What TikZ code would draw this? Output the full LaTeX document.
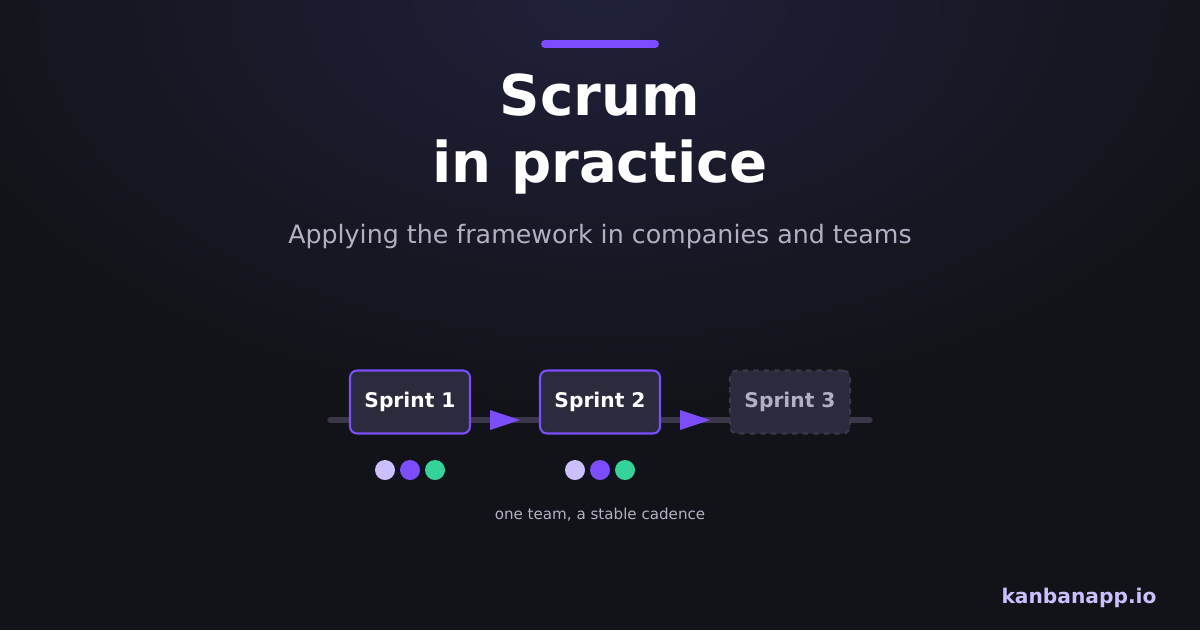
\documentclass[tikz,border=0pt]{standalone}
\usepackage{fontspec}
\setmainfont{DejaVu Sans}
\usetikzlibrary{positioning}
\definecolor{bgdark}{HTML}{121318}
\definecolor{bglight}{HTML}{20203a}
\definecolor{accent}{HTML}{7C4DFF}
\definecolor{lilac}{HTML}{CBBFFF}
\definecolor{mint}{HTML}{34D399}
\definecolor{boxfill}{HTML}{2C2B3D}
\definecolor{track}{HTML}{3A3848}
\definecolor{muted}{HTML}{B3B0C4}
\begin{document}
\begin{tikzpicture}[x=0.02cm,y=-0.02cm,
    sprint/.style={rectangle,rounded corners=4pt,draw=accent,line width=1.2pt,fill=boxfill,
      minimum width=2.4cm,minimum height=1.26cm,text=white,font=\fontsize{11.5}{13}\selectfont\bfseries},
    planned/.style={sprint,draw=track,dashed,text=muted},
    dot/.style={circle,minimum size=0.4cm,inner sep=0pt}]

    % Background
    \useasboundingbox (0,0) rectangle (1200,630);
    \clip (0,0) rectangle (1200,630);
    \fill[bgdark] (0,0) rectangle (1200,630);
    \shade[inner color=bglight,outer color=bgdark] (600,0) ellipse (700 and 420);

    % Title block
    \draw[accent,line width=4.5pt,line cap=round] (545,44) -- (655,44);
    \node[text=white,font=\fontsize{32}{38}\selectfont\bfseries,align=center] (title) at (600,134) {Scrum\\in practice};
    \node[text=muted,font=\fontsize{14.4}{17}\selectfont] (subtitle) at (600,237) {Applying the framework in companies and teams};

    % Timeline
    \coordinate (start) at (330,420);
    \coordinate (end) at (870,420);
    \draw[track,line width=3pt,line cap=round] (start) -- (end);

    \node[sprint] (s1) at (410,402) {Sprint 1};
    \node[sprint] (s2) at (600,402) {Sprint 2};
    \node[planned] (s3) at (790,402) {Sprint 3};

    \foreach \x in {490,680}
        \fill[accent] (\x,410) -- (\x+30,420) -- (\x,430) -- cycle;

    % Team dots
    \foreach \s/\x in {a/385,b/575}{
        \node[dot,fill=lilac] (\s1) at (\x,470) {};
        \node[dot,fill=accent] (\s2) at (\x+25,470) {};
        \node[dot,fill=mint] (\s3) at (\x+50,470) {};
    }

    \node[text=muted,font=\fontsize{8.6}{10}\selectfont] (caption) at (600,515) {one team, a stable cadence};
    \node[text=lilac,font=\fontsize{11.5}{13}\selectfont\bfseries] (brand) at (1079,598) {kanbanapp.io};
\end{tikzpicture}
\end{document}
